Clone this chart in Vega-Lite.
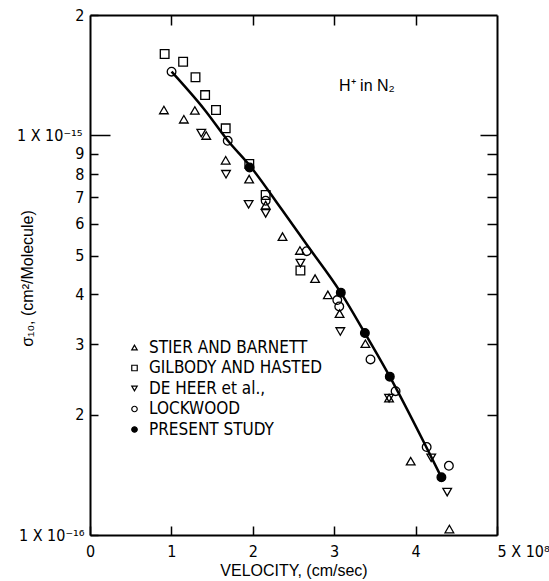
{
  "$schema": "https://vega.github.io/schema/vega-lite/v6.json",
  "width": 407,
  "height": 520,
  "autosize": "none",
  "padding": {"left": 90, "top": 15, "right": 52, "bottom": 46},
  "background": "white",
  "config": {
    "view": {"stroke": null},
    "font": "DejaVu Sans Condensed, Liberation Sans, sans-serif",
    "axis": {
      "domainColor": "black", "domainWidth": 2,
      "tickColor": "black", "tickWidth": 1.5,
      "labelColor": "black", "titleColor": "black",
      "labelFont": "DejaVu Sans Condensed, Liberation Sans, sans-serif", "titleFont": "Liberation Sans, sans-serif",
      "labelFontSize": 16, "titleFontSize": 16, "titleFontWeight": "normal",
      "grid": false, "labelOverlap": false, "labelFlush": false
    },
    "legend": {
      "labelFont": "DejaVu Sans Condensed, Liberation Sans, sans-serif",
      "labelFontSize": 17, "labelColor": "black",
      "symbolStrokeColor": "black", "symbolStrokeWidth": 1.2
    }
  },
  "datasets": {
    "obs": [
      {"series": "STIER AND BARNETT", "v": 0.908, "s": 1.157e-15},
      {"series": "STIER AND BARNETT", "v": 1.153, "s": 1.097e-15},
      {"series": "STIER AND BARNETT", "v": 1.288, "s": 1.154e-15},
      {"series": "STIER AND BARNETT", "v": 1.428, "s": 0.999e-15},
      {"series": "STIER AND BARNETT", "v": 1.667, "s": 8.66e-16},
      {"series": "STIER AND BARNETT", "v": 1.955, "s": 7.77e-16},
      {"series": "STIER AND BARNETT", "v": 2.158, "s": 6.69e-16},
      {"series": "STIER AND BARNETT", "v": 2.365, "s": 5.58e-16},
      {"series": "STIER AND BARNETT", "v": 2.579, "s": 5.15e-16},
      {"series": "STIER AND BARNETT", "v": 2.765, "s": 4.38e-16},
      {"series": "STIER AND BARNETT", "v": 2.922, "s": 3.99e-16},
      {"series": "STIER AND BARNETT", "v": 3.066, "s": 3.58e-16},
      {"series": "STIER AND BARNETT", "v": 3.383, "s": 3.01e-16},
      {"series": "STIER AND BARNETT", "v": 3.674, "s": 2.2e-16},
      {"series": "STIER AND BARNETT", "v": 3.94, "s": 1.53e-16},
      {"series": "STIER AND BARNETT", "v": 4.415, "s": 1.035e-16},
      {"series": "GILBODY AND HASTED", "v": 0.917, "s": 1.598e-15},
      {"series": "GILBODY AND HASTED", "v": 1.144, "s": 1.528e-15},
      {"series": "GILBODY AND HASTED", "v": 1.296, "s": 1.397e-15},
      {"series": "GILBODY AND HASTED", "v": 1.414, "s": 1.261e-15},
      {"series": "GILBODY AND HASTED", "v": 1.548, "s": 1.157e-15},
      {"series": "GILBODY AND HASTED", "v": 1.667, "s": 1.041e-15},
      {"series": "GILBODY AND HASTED", "v": 1.957, "s": 8.48e-16},
      {"series": "GILBODY AND HASTED", "v": 2.158, "s": 7.09e-16},
      {"series": "GILBODY AND HASTED", "v": 2.585, "s": 4.59e-16},
      {"series": "DE  HEER et al.,", "v": 1.367, "s": 1.013e-15},
      {"series": "DE  HEER et al.,", "v": 1.671, "s": 7.99e-16},
      {"series": "DE  HEER et al.,", "v": 1.949, "s": 6.72e-16},
      {"series": "DE  HEER et al.,", "v": 2.158, "s": 6.38e-16},
      {"series": "DE  HEER et al.,", "v": 2.585, "s": 4.79e-16},
      {"series": "DE  HEER et al.,", "v": 3.075, "s": 3.23e-16},
      {"series": "DE  HEER et al.,", "v": 3.674, "s": 2.2e-16},
      {"series": "DE  HEER et al.,", "v": 4.192, "s": 1.56e-16},
      {"series": "DE  HEER et al.,", "v": 4.388, "s": 1.28e-16},
      {"series": "LOCKWOOD", "v": 1.002, "s": 1.443e-15},
      {"series": "LOCKWOOD", "v": 1.692, "s": 9.69e-16},
      {"series": "LOCKWOOD", "v": 2.158, "s": 6.86e-16},
      {"series": "LOCKWOOD", "v": 2.662, "s": 5.13e-16},
      {"series": "LOCKWOOD", "v": 3.038, "s": 3.87e-16},
      {"series": "LOCKWOOD", "v": 3.062, "s": 3.73e-16},
      {"series": "LOCKWOOD", "v": 3.446, "s": 2.75e-16},
      {"series": "LOCKWOOD", "v": 3.754, "s": 2.29e-16},
      {"series": "LOCKWOOD", "v": 4.136, "s": 1.66e-16},
      {"series": "LOCKWOOD", "v": 4.409, "s": 1.49e-16},
      {"series": "PRESENT STUDY", "v": 1.961, "s": 8.31e-16},
      {"series": "PRESENT STUDY", "v": 3.081, "s": 4.04e-16},
      {"series": "PRESENT STUDY", "v": 3.377, "s": 3.2e-16},
      {"series": "PRESENT STUDY", "v": 3.683, "s": 2.49e-16},
      {"series": "PRESENT STUDY", "v": 4.317, "s": 1.394e-16}
    ],
    "fit": [
      {"v": 1.002, "s": 1.443e-15},
      {"v": 1.41, "s": 1.157e-15},
      {"v": 1.692, "s": 9.71e-16},
      {"v": 1.967, "s": 8.38e-16},
      {"v": 2.352, "s": 6.54e-16},
      {"v": 2.662, "s": 5.33e-16},
      {"v": 3.081, "s": 4.04e-16},
      {"v": 3.377, "s": 3.2e-16},
      {"v": 3.683, "s": 2.49e-16},
      {"v": 4.131, "s": 1.66e-16},
      {"v": 4.317, "s": 1.394e-16}
    ],
    "note": [
      {"v": 3.06, "s": 1.33e-15, "label": "H⁺ in N₂"}
    ]
  },
  "resolve": {"axis": {"x": "independent", "y": "independent"}},
  "layer": [
    {
      "data": {"name": "obs"},
      "mark": {"type": "point", "strokeWidth": 1.3, "opacity": 1, "fillOpacity": 1, "strokeOpacity": 1, "size": 75},
      "encoding": {
        "x": {
          "field": "v", "type": "quantitative",
          "scale": {"domain": [0, 5], "nice": false, "zero": false},
          "axis": {
            "orient": "bottom", "values": [0, 1, 2, 3, 4, 5],
            "tickSize": -9, "labelPadding": 17,
            "labelExpr": "datum.value == 5 ? '5 X 10⁸' : datum.label",
            "labelAlign": {"condition": {"test": "datum.value == 5", "value": "left"}, "value": "center"},
            "title": "VELOCITY, (cm/sec)", "titlePadding": 3
          }
        },
        "y": {
          "field": "s", "type": "quantitative",
          "scale": {"type": "log", "domain": [1e-16, 2e-15], "nice": false},
          "axis": {
            "orient": "left",
            "values": [1e-16, 2e-16, 3e-16, 4e-16, 5e-16, 6e-16, 7e-16, 8e-16, 9e-16, 1e-15, 2e-15],
            "tickSize": {"condition": {"test": "datum.value == 1e-15", "value": -20}, "value": -8},
            "labelPadding": {"condition": {"test": "datum.value == 1e-15", "value": 28}, "value": 14},
            "labelExpr": "datum.value == 2e-15 ? '2' : datum.value == 1e-15 ? '1 X 10⁻¹⁵' : datum.value == 1e-16 ? '1 X 10⁻¹⁶' : format(datum.value * 1e16, '.0f')",
            "title": "σ₁₀,  (cm²/Molecule)",
            "titleX": -55, "titleY": 263
          }
        },
        "shape": {
          "field": "series", "type": "nominal",
          "scale": {
            "domain": ["STIER AND BARNETT", "GILBODY AND HASTED", "DE  HEER et al.,", "LOCKWOOD", "PRESENT STUDY"],
            "range": ["triangle-up", "square", "triangle-down", "circle", "circle"]
          },
          "legend": {
            "title": null, "orient": "none", "legendX": 36, "legendY": 324,
            "symbolSize": 30, "symbolStrokeWidth": 1.2,
            "labelOffset": 6, "rowPadding": 2.5, "padding": 0, "labelLimit": 300
          }
        },
        "fill": {
          "field": "series", "type": "nominal",
          "scale": {
            "domain": ["STIER AND BARNETT", "GILBODY AND HASTED", "DE  HEER et al.,", "LOCKWOOD", "PRESENT STUDY"],
            "range": ["transparent", "transparent", "transparent", "transparent", "black"]
          },
          "legend": {
            "title": null, "orient": "none", "legendX": 36, "legendY": 324,
            "symbolSize": 30, "symbolStrokeWidth": 1.2,
            "labelOffset": 6, "rowPadding": 2.5, "padding": 0, "labelLimit": 300
          }
        },
        "stroke": {
          "field": "series", "type": "nominal",
          "scale": {
            "domain": ["STIER AND BARNETT", "GILBODY AND HASTED", "DE  HEER et al.,", "LOCKWOOD", "PRESENT STUDY"],
            "range": ["black", "black", "black", "black", "black"]
          },
          "legend": {
            "title": null, "orient": "none", "legendX": 36, "legendY": 324,
            "symbolSize": 30, "symbolStrokeWidth": 1.2,
            "labelOffset": 6, "rowPadding": 2.5, "padding": 0, "labelLimit": 300
          }
        }
      }
    },
    {
      "data": {"name": "fit"},
      "mark": {"type": "line", "color": "black", "strokeWidth": 2.5, "interpolate": "monotone"},
      "encoding": {
        "x": {
          "field": "v", "type": "quantitative",
          "scale": {"domain": [0, 5], "nice": false, "zero": false},
          "axis": {"orient": "top", "values": [1, 2, 3, 4], "tickSize": -10, "labels": false, "title": null}
        },
        "y": {
          "field": "s", "type": "quantitative",
          "scale": {"type": "log", "domain": [1e-16, 2e-15], "nice": false},
          "axis": {
            "orient": "right",
            "values": [2e-16, 3e-16, 4e-16, 5e-16, 6e-16, 7e-16, 8e-16, 9e-16, 1e-15],
            "tickSize": {"condition": {"test": "datum.value == 1e-15", "value": -17}, "value": -10},
            "labels": false, "title": null
          }
        }
      }
    },
    {
      "data": {"name": "note"},
      "mark": {"type": "text", "align": "left", "baseline": "middle", "fontSize": 16, "font": "Liberation Sans, sans-serif", "color": "black"},
      "encoding": {
        "x": {"field": "v", "type": "quantitative", "axis": null},
        "y": {"field": "s", "type": "quantitative", "scale": {"type": "log"}, "axis": null},
        "text": {"field": "label"}
      }
    }
  ]
}
